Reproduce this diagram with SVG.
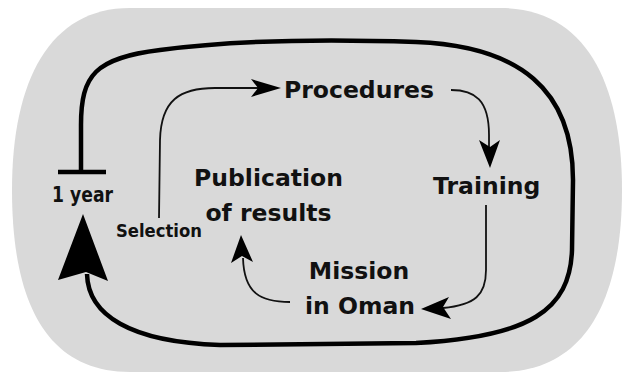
<svg xmlns="http://www.w3.org/2000/svg" width="624" height="380" viewBox="0 0 624 380">
<style>
text{font-family:"DejaVu Sans","Liberation Sans",sans-serif;font-weight:bold;fill:#111;}
.lbl{font-size:23.5px;text-anchor:middle;}
.thin{fill:none;stroke:#111;stroke-width:1.8;}
.thick{fill:none;stroke:#000;stroke-width:4.5;}
.head{fill:#000;stroke:none;}
</style>
<rect width="624" height="380" fill="#fff"/>
<path id="bg" d="M130,8 L500,8 C590,8 622,90 622,190 C622,300 585,372 500,372 L130,372 C45,372 12,300 12,190 C12,80 50,8 130,8 Z" fill="#d9d9d9"/>
<g id="connectors">
  <path class="thick" d="M81,172 V125 C81,75 95,58 160,50 C220,42 300,38 416,42 C520,46 573,90 573,180 L572,250 C570,310 530,337 416,343 L220,345 C130,342 88,315 87,274"/>
  <line x1="58" y1="172" x2="106" y2="172" stroke="#000" stroke-width="4.5"/>
  <polygon class="head" points="83,214 108,281 86,272 58,280"/>
  <path class="thin" d="M159,218 L160,140 C161,100 180,88 215,88 L260,88"/>
  <polygon class="head" points="281,88 251,79 258,88 251,97"/>
  <path class="thin" d="M451,90 C475,90 489,100 489,135 L489,150"/>
  <polygon class="head" points="490,168 479,140 490,147 500,140"/>
  <path class="thin" d="M486,205 L486,270 C486,295 475,305 443,308"/>
  <polygon class="head" points="421,309 449,297 443,307 451,319"/>
  <path class="thin" d="M290,302 C260,302 244,293 243,258"/>
  <polygon class="head" points="241,235 231,263 242,256 253,262"/>
</g>
<g id="procedures"><text x="284" y="98" style="font-size:23.5px">Procedures</text></g>
<g id="training"><text x="433" y="194" style="font-size:23.5px">Training</text></g>
<g id="mission"><text class="lbl" x="359" y="279">Mission</text><text class="lbl" x="360" y="314">in Oman</text></g>
<g id="publication"><text class="lbl" x="268.5" y="186">Publication</text><text class="lbl" x="268.5" y="221">of results</text></g>
<g id="selection"><text x="116" y="237" style="font-size:17px" textLength="86" lengthAdjust="spacingAndGlyphs">Selection</text></g>
<g id="year"><text x="52" y="202" style="font-size:22px" textLength="61" lengthAdjust="spacingAndGlyphs">1 year</text></g>
</svg>
